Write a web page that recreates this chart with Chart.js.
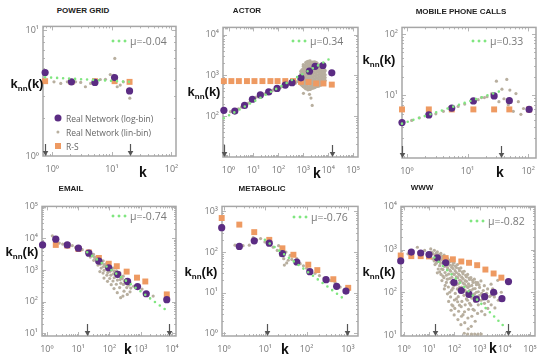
<!DOCTYPE html>
<html>
<head>
<meta charset="utf-8">
<script src="https://cdn.jsdelivr.net/npm/chart.js@4.4.1/dist/chart.umd.min.js"></script>
<style>
  html, body { margin: 0; padding: 0; background: #fff; overflow: hidden; }
  #fig { position: relative; width: 538px; height: 355px; overflow: hidden; }
  canvas { position: absolute; }
  .t { position: absolute; white-space: nowrap; transform: translate(-50%, -50%); }
  .title { font: bold 8px "Liberation Sans", Arial, sans-serif; color: #222; }
  .knn { font: bold 13px "Liberation Sans", Arial, sans-serif; color: #111; }
  .knn sub { font-size: 8px; vertical-align: -3px; }
  .kx { font: bold 14px "Liberation Sans", Arial, sans-serif; color: #111; }
  .mu { position: absolute; white-space: nowrap; transform: translateY(-50%); font: 10.5px "Open Sans", sans-serif; color: #7a7a7a; }
  .dots { position: absolute; height: 6px; transform: translateY(-50%);
          background: radial-gradient(circle, #80e680 1.3px, transparent 1.7px) 0 0 / 6px 6px repeat-x; }
  .leg { position: absolute; white-space: nowrap; transform: translateY(-50%); font: 8.5px "Open Sans", sans-serif; color: #666; }
  .mk { position: absolute; transform: translate(-50%, -50%); }
</style>
</head>
<body>
<div id="fig"></div>
<script>
// all values are [k, knn(k)]

// POWER GRID
const pgLog = [[0.76,4.6],[2.1,3.88],[5.2,3.84],[11.1,4.2],[19.8,3.29]];
const pgRS = [[0.76,3.93],[2.1,3.88],[5.2,3.93],[11.1,3.93],[19.8,3.88]];
const pgLin = [[1.07,3.88],[1.39,3.77],[1.79,3.88],[2.46,3.88],[3.0,3.84],[3.6,3.55],[4.4,3.77],[5.3,3.93],
  [6.4,4.05],[7.8,4.07],[9.4,4.43],[10.7,4.37],[11.2,5.96],[12.3,3.55],[13.8,3.66],[15.6,3.88],[20,2.88]];
const pgFit = [[0.76,4.22],[20,3.88]];
const pgArrows = [0.76, 20];

// ACTOR
const acLog = [[0.65,138],[1.79,132],[4.4,182],[9.1,258],[19,330],[41,390],[89,475],[190,575],[355,660],
  [810,865],[1780,1260],[3000,1660],[6150,1740],[14000,1150]];
const acRS = [[0.65,720],[1.3,720],[2.6,720],[5.5,720],[11,720],[23,720],[48,720],[93,720],[190,720],[390,720],
  [810,690],[1630,680],[3300,630],[6500,630],[14000,590]];
const acLin = [[1.2,128],[2.5,150],[3.3,165],[6,205],[7.5,230],[13,290],[16,310],[28,350],[33,365],[60,430],
  [70,440],[120,500],[150,540],[260,600],[300,620],[480,640],[560,700],
  [1020,360],[1780,340],[2040,275],[2290,182],
  [650,710],[650,800],
  [800,590],[800,690],[800,800],[800,940],[800,1100],[800,1260],
  [1000,525],[1000,620],[1000,730],[1000,860],[1000,1010],[1000,1190],[1000,1400],[1000,1650],[1000,1820],
  [1250,470],[1250,550],[1250,650],[1250,760],[1250,900],[1250,1060],[1250,1250],[1250,1470],[1250,1730],[1250,2050],
  [1550,440],[1550,520],[1550,610],[1550,720],[1550,850],[1550,1000],[1550,1180],[1550,1390],[1550,1640],[1550,1930],[1550,2200],
  [1900,450],[1900,530],[1900,620],[1900,730],[1900,860],[1900,1010],[1900,1190],[1900,1400],[1900,1650],[1900,1940],[1900,2250],
  [2350,480],[2350,560],[2350,660],[2350,780],[2350,920],[2350,1080],[2350,1270],[2350,1500],[2350,1760],[2350,2100],
  [2900,500],[2900,590],[2900,700],[2900,820],[2900,970],[2900,1140],[2900,1340],[2900,1580],[2900,1860],[2900,2150],
  [3600,530],[3600,620],[3600,730],[3600,860],[3600,1010],[3600,1190],[3600,1400],[3600,1650],[3600,2000],
  [4400,550],[4400,650],[4400,760],[4400,900],[4400,1060],[4400,1250],[4400,1470],[4400,1800],
  [5400,590],[5400,690],[5400,810],[5400,960],[5400,1130],[5400,1330],[5400,1650],
  [6600,660],[6600,780],[6600,920],[6600,1080],[6600,1270],[6600,1550],
  [7600,750],[7600,880],[7600,1030],[7600,1300],
  [720,660],[720,760],[720,870],
  [900,560],[900,650],[900,760],[900,890],[900,1040],[900,1200],[900,1380],
  [1120,500],[1120,590],[1120,690],[1120,810],[1120,950],[1120,1120],[1120,1310],[1120,1540],[1120,1750],
  [1390,460],[1390,540],[1390,630],[1390,740],[1390,870],[1390,1030],[1390,1210],[1390,1430],[1390,1680],[1390,1980],[1390,2150],
  [1720,450],[1720,530],[1720,620],[1720,730],[1720,860],[1720,1010],[1720,1190],[1720,1410],[1720,1660],[1720,1960],[1720,2220],
  [2100,470],[2100,550],[2100,650],[2100,760],[2100,890],[2100,1050],[2100,1240],[2100,1460],[2100,1720],[2100,2030],
  [2600,490],[2600,580],[2600,680],[2600,800],[2600,940],[2600,1110],[2600,1300],[2600,1540],[2600,1810],[2600,2120],
  [3250,520],[3250,610],[3250,720],[3250,840],[3250,990],[3250,1160],[3250,1370],[3250,1610],[3250,1900],[3250,2080],
  [4000,540],[4000,640],[4000,750],[4000,880],[4000,1030],[4000,1220],[4000,1430],[4000,1700],
  [4900,570],[4900,670],[4900,790],[4900,930],[4900,1090],[4900,1290],[4900,1520],[4900,1720],
  [6000,620],[6000,730],[6000,860],[6000,1010],[6000,1190],[6000,1420],
  [7100,700],[7100,820],[7100,970],[7100,1150],[7100,1380]];
const acFit = [[0.65,88],[12000,2570]];
const acArrows = [0.64, 14500];

// MOBILE PHONE CALLS
const mpLog = [[0.83,3.6],[2.3,4.8],[5.5,6.2],[12.5,8.1],[27.5,9.8],[49,8.2],[104,5.9]];
const mpRS = [[0.83,5.9],[2.3,5.9],[5.5,5.9],[12.5,5.9],[27.5,5.9],[49,5.9],[104,5.9]];
const mpLin = [[1.2,3.9],[1.6,4.3],[3,5.0],[4,5.5],[7,6.6],[9,7.2],[15,8.5],[19,9.2],[17,9.2],[21,9.5],[25,10.7],
  [30,17],[44.5,18.2],[37,12.6],[33,7.9],[40,8.8],[47,7.0],[50,12.2],[57,5.5],[63,10.7],[69,7.9],[76,4.9],[84,6.1]];
const mpFit = [[0.83,3.46],[34.5,11.7]];
const mpArrows = [0.83, 35.7];

// EMAIL
const emLog = [[0.73,6200],[1.93,9400],[4.5,6200],[10.2,4900],[22,3400],[46,1900],[95,1180],[184,730],[380,435],
  [790,300],[1500,178],[6800,116]];
const emRS = [[1.93,6200],[4.5,5900],[10.2,4600],[22,3600],[46,2400],[95,1580],[172,1320],[355,890],[760,575],
  [1400,435],[6800,170]];
const emLin = [[1.5,12000],[2.5,7100],[3.2,6600],[6.5,5900],[8.3,5200],[13.5,4400],[18.5,3850],[20.5,3260],
  [24,3650],[26,3020],[24.5,2570],[31,3100],[33.5,2500],[31.5,2030],[39.5,2650],[42.5,2180],[40,1750],[43,1430],
  [50,2250],[54,1800],[51,1520],[54.5,1150],[49.5,890],[63,1950],[69,1490],[64.5,1280],[68,980],[62.5,800],[67,555],
  [82,1650],[88,1310],[81,1100],[89,840],[83,690],[87,440],[103,1400],[112,1110],[105,910],[111,690],[102,540],[114,345],
  [132,1160],[145,920],[134,760],[142,570],[130,450],[140,260],[168,950],[181,780],[170,640],[180,480],[166,355],[178,192],
  [215,810],[234,610],[220,500],[232,385],[212,280],[228,134],[275,640],[296,455],[280,350],[292,215],[270,150],
  [350,500],[378,355],[358,280],[372,170],[450,395],[480,270],[455,205],[590,307],
  [29,2800],[37,2350],[46,2000],[58,1650],[75,1400],[95,1200],[120,1000],[155,820],[200,700],[255,540],[320,420],[410,330],
  [1100,250],[2500,150],[7500,140]];
const emFit = [[19.5,3630],[8100,46]];
const emArrows = [18.6, 8200];

// METABOLIC
const mbLog = [[0.88,400],[2.35,138],[5.4,190],[12.5,166],[26,92],[58,57],[120,33],[296,21],[535,14.4],[900,11]];
const mbRS = [[0.88,690],[2.35,475],[5.4,310],[12.5,200],[26,124],[48,86],[110,49],[182,36],[445,21.5],[1020,13.2]];
const mbLin = [[1.85,148],[2.9,144],[4.1,148],[5.1,228],[6.2,200],[7.7,215],[9.8,178],[13,166],[15.6,132],[19.5,110],
  [21,144],[23.5,83],[28,69],[29,48],[31.6,100],[33,54],[36,63],[40,83],[44,66],[53,60],[58,69],[70,52],[84,46],
  [101,40],[126,34.5],[160,30],[205,26.5],[265,23],[370,20],[490,17.5],[650,13.8]];
const mbFit = [[9.8,200],[930,6.3]];
const mbArrows = [10.8, 935];

// WWW
const wwLog = [[0.74,540],[1.95,870],[4.6,830],[9.8,760],[21,640],[45,490],[96,170],[188,110],[380,89],[740,69],
  [1590,79],[3600,100],[7700,71],[14000,178]];
const wwRS = [[0.74,725],[1.95,700],[4.6,700],[9.8,690],[21,640],[45,630],[87,590],[188,525],[380,490],[800,430],
  [1700,340],[3600,275],[7300,220]];
const wwLin = [[1.44,795],[3.4,1130],[3.9,870],[6.6,950],
  [11.5,1030],[12.6,860],[11.8,640],[16,960],[17.2,740],[15.8,540],[17,445],
  [21,880],[23,650],[21.5,520],[22.8,350],[21,285],[29,810],[31.5,590],[28.5,480],[31,350],[29.5,262],[32,188],
  [39,740],[43,540],[40,405],[42.5,290],[38.5,220],[43,145],[40,120],
  [53,620],[58.5,455],[54,372],[59,266],[52.5,202],[57.5,133],[53,92],[59,61],
  [72,570],[78,385],[71,310],[79,224],[73,170],[77.5,112],[70.5,78],[79,51],[74,38],
  [97,485],[107,320],[99,262],[105,188],[96,143],[108,94],[100,66],[104,42],[98,29.5],
  [133,445],[146,266],[136,220],[144,158],[131,120],[142,79],[135,60],[147,36],[138,23],
  [180,372],[196,225],[184,184],[193,133],[178,100],[198,61],[186,46],[192,27.5],[182,17.5],
  [245,310],[266,188],[250,155],[262,112],[240,85],[268,51],[252,35],[258,19.5],[246,11],
  [335,262],[362,158],[340,130],[356,86],[330,65],[365,40],[344,25],[352,14],[338,10.5],
  [452,220],[490,145],[460,110],[482,73],[448,50],[492,27.5],[466,16],[476,10.5],
  [620,202],[662,122],[630,92],[655,61],[612,38],[668,21],[640,10.5],
  [840,168],[890,103],[850,78],[885,51],[830,32],[870,10.5],
  [1130,184],[1210,94],[1150,65],[1200,36],[1160,10.5],
  [1540,143],[1640,79],[1560,55],[1620,30],[2080,120],[2220,61],[2120,42],
  [2850,155],[3000,86],[2880,51],[3850,78],[4050,43],[5250,190],[5500,65],[7280,100],
  [14,800],[14,600],[19,820],[19,620],[19,480],[26,700],[26,540],[26,420],[26,300],[35,650],[35,500],[35,340],[35,240],
  [48,640],[48,520],[48,410],[48,250],[48,170],[65,520],[65,430],[65,330],[65,210],[65,100],
  [88,500],[88,360],[88,270],[88,180],[88,125],[88,48],[120,380],[120,290],[120,230],[120,150],[120,70],
  [160,320],[160,250],[160,190],[160,130],[160,50],[220,270],[220,210],[220,165],[220,105],[220,30],
  [300,230],[300,180],[300,140],[300,100],[300,70],[400,200],[400,140],[400,110],[400,55],
  [550,170],[550,120],[550,85],[550,40],[750,150],[750,100],[750,70],[1000,130],[1000,85],
  [1400,110],[1400,70],[1900,95],[2500,80],[3300,120],[4500,95],
  [25,760],[33,690],[45,580],[62,560],[85,430],[110,410],[150,360],[205,300],[280,250],[380,215],[520,190],[700,170],[950,150]];
const wwFit = [[16,650],[11500,14.2]];
const wwArrows = [17.5, 13500];

const PURPLE = '#5b2c83', ORANGE = '#ee9a62', GRAY = '#b8af9f', GREEN = '#80e680';

// layout of each panel (box = plot frame in page px: left, top, right, bottom)
const panels = [
  { title: 'POWER GRID', log: pgLog, rs: pgRS, lin: pgLin, fit: pgFit, arrows: pgArrows, mu: 'μ=-0.04',
    xr: [0.72, 119], yr: [1, 10.7], box: [43, 23, 176, 156],
    titleAt: [83, 10], knnAt: [27, 84], kAt: [143, 172], muAt: [110, 41] },
  { title: 'ACTOR', log: acLog, rs: acRS, lin: acLin, fit: acFit, arrows: acArrows, mu: 'μ=0.34',
    xr: [0.63, 158000], yr: [9.84, 15000], box: [223, 24, 358, 157],
    titleAt: [247, 10], knnAt: [204, 92], kAt: [317, 173], muAt: [290, 41] },
  { title: 'MOBILE PHONE CALLS', log: mpLog, rs: mpRS, lin: mpLin, fit: mpFit, arrows: mpArrows, mu: 'μ=0.33',
    xr: [0.83, 135], yr: [0.953, 128], box: [402, 24, 536, 158],
    titleAt: [461, 11], knnAt: [379, 60], kAt: [500, 172], muAt: [470, 41] },
  { title: 'EMAIL', log: emLog, rs: emRS, lin: emLin, fit: emFit, arrows: emArrows, mu: 'μ=-0.74',
    xr: [0.746, 13400], yr: [8.26, 102000], box: [42, 203, 176, 336],
    titleAt: [71, 188], knnAt: [22, 252], kAt: [128, 349], muAt: [110, 216] },
  { title: 'METABOLIC', log: mbLog, rs: mbRS, lin: mbLin, fit: mbFit, arrows: mbArrows, mu: 'μ=-0.76',
    xr: [0.895, 1760], yr: [0.861, 1333], box: [222, 203, 358, 336],
    titleAt: [262, 188], knnAt: [201, 272], kAt: [285, 349], muAt: [291, 217] },
  { title: 'WWW', log: wwLog, rs: wwRS, lin: wwLin, fit: wwFit, arrows: wwArrows, mu: 'μ=-0.82',
    xr: [0.76, 158000], yr: [9.49, 10200], box: [401, 203, 535, 336],
    titleAt: [422, 187], knnAt: [379, 272], kAt: [493, 348], muAt: [468, 221] }
];

const WY = 34, HX = 22, PT = 6, PR = 10;
const sup = ['⁰', '¹', '²', '³', '⁴', '⁵'];
const decade = v => {
  const e = Math.log10(v), r = Math.round(e);
  return Math.abs(e - r) < 1e-6 ? r : null;
};
const tickLabel = v => { const r = decade(v); return r !== null && r >= 0 ? '10' + sup[r] : ''; };
const pts = a => a.map(([x, y]) => ({ x, y }));

// frame, inward minor ticks and the fit-range arrows
const frame = {
  id: 'frame',
  beforeDatasetsDraw(chart) {
    const { ctx, chartArea: a, scales: { x, y } } = chart;
    ctx.save();
    ctx.strokeStyle = '#b5b5b5';
    ctx.lineWidth = 1;
    const mark = (s, horiz) => s.ticks.forEach(t => {
      const m = t.value / Math.pow(10, Math.floor(Math.log10(t.value) + 1e-9));
      if (Math.abs(m - Math.round(m)) > 1e-6) return;
      const len = Math.round(m) === 1 ? 4 : 2;
      const p = Math.round(s.getPixelForValue(t.value)) + 0.5;
      if (horiz ? (p < a.left || p > a.right) : (p < a.top || p > a.bottom)) return;
      ctx.beginPath();
      if (horiz) {
        ctx.moveTo(p, a.bottom); ctx.lineTo(p, a.bottom - len);
        ctx.moveTo(p, a.top); ctx.lineTo(p, a.top + len);
      } else {
        ctx.moveTo(a.left, p); ctx.lineTo(a.left + len, p);
        ctx.moveTo(a.right, p); ctx.lineTo(a.right - len, p);
      }
      ctx.stroke();
    });
    mark(x, true);
    mark(y, false);
    ctx.strokeStyle = '#a6a6a6';
    ctx.lineWidth = 1.5;
    ctx.strokeRect(a.left, a.top, a.right - a.left, a.bottom - a.top);
    ctx.restore();
  },
  afterDatasetsDraw(chart, args, opts) {
    const { ctx, chartArea: a, scales: { x } } = chart;
    ctx.save();
    ctx.strokeStyle = '#555';
    ctx.fillStyle = '#555';
    ctx.lineWidth = 1.2;
    (opts.arrows || []).forEach(k => {
      const p = Math.round(x.getPixelForValue(k)) + 0.5;
      ctx.beginPath();
      ctx.moveTo(p, a.bottom - 12);
      ctx.lineTo(p, a.bottom - 4);
      ctx.stroke();
      ctx.beginPath();
      ctx.moveTo(p - 2.8, a.bottom - 5);
      ctx.lineTo(p + 2.8, a.bottom - 5);
      ctx.lineTo(p, a.bottom);
      ctx.closePath();
      ctx.fill();
    });
    ctx.restore();
  }
};

const fig = document.getElementById('fig');
const addText = (cls, html, x, y) => {
  const d = document.createElement('div');
  d.className = cls;
  d.innerHTML = html;
  d.style.left = x + 'px';
  d.style.top = y + 'px';
  fig.appendChild(d);
  return d;
};

const tickFont = { family: '"Open Sans", sans-serif', size: 9 };

panels.forEach(p => {
  const [L, T, R, B] = p.box;
  const cv = document.createElement('canvas');
  const w = WY + (R - L) + PR, h = PT + (B - T) + HX;
  cv.width = w; cv.height = h;
  cv.style.left = (L - WY) + 'px';
  cv.style.top = (T - PT) + 'px';
  cv.style.width = w + 'px';
  cv.style.height = h + 'px';
  fig.appendChild(cv);

  new Chart(cv.getContext('2d'), {
    type: 'scatter',
    data: {
      datasets: [
        { label: 'fit', data: pts(p.fit), showLine: true, borderColor: GREEN, borderWidth: 2.6,
          borderDash: [0, 6], borderCapStyle: 'round', pointRadius: 0, clip: false },
        { label: 'Real Network (log-bin)', data: pts(p.log), pointRadius: 3.6, pointBorderWidth: 0,
          backgroundColor: PURPLE, clip: false },
        { label: 'R-S', data: pts(p.rs), pointStyle: 'rect', pointRadius: 4.2, pointBorderWidth: 0,
          backgroundColor: ORANGE, clip: false },
        { label: 'Real Network (lin-bin)', data: pts(p.lin), pointRadius: 1.6, pointBorderWidth: 0,
          backgroundColor: GRAY, clip: false }
      ]
    },
    options: {
      responsive: false,
      animation: false,
      devicePixelRatio: 1,
      events: [],
      layout: { padding: { top: PT, right: PR, left: 0, bottom: 0 } },
      plugins: { legend: { display: false }, tooltip: { enabled: false }, frame: { arrows: p.arrows } },
      scales: {
        x: {
          type: 'logarithmic', min: p.xr[0], max: p.xr[1],
          grid: { display: false, drawTicks: false }, border: { display: false },
          ticks: { autoSkip: false, maxRotation: 0, padding: 8, color: '#767676', font: tickFont, callback: tickLabel },
          afterFit: s => { s.height = HX; }
        },
        y: {
          type: 'logarithmic', min: p.yr[0], max: p.yr[1],
          grid: { display: false, drawTicks: false }, border: { display: false },
          ticks: { autoSkip: false, padding: 4, color: '#767676', font: tickFont, callback: tickLabel },
          afterFit: s => { s.width = WY; }
        }
      }
    },
    plugins: [frame]
  });

  addText('t title', p.title, p.titleAt[0], p.titleAt[1]);
  addText('t knn', 'k<sub>nn</sub>(k)', p.knnAt[0], p.knnAt[1]);
  addText('t kx', 'k', p.kAt[0], p.kAt[1]);
  const dots = addText('dots', '', p.muAt[0], p.muAt[1]);
  dots.style.width = '18px';
  addText('mu', p.mu, p.muAt[0] + 20, p.muAt[1]);
});

// legend (drawn in the power grid panel)
const legendRows = [
  { text: 'Real Network (log-bin)', css: `width:7px;height:7px;border-radius:50%;background:${PURPLE}` },
  { text: 'Real Network (lin-bin)', css: `width:3.2px;height:3.2px;border-radius:50%;background:${GRAY}` },
  { text: 'R-S', css: `width:6px;height:6px;background:${ORANGE}` }
];
legendRows.forEach((r, i) => {
  const y = 118 + i * 14;
  const m = addText('mk', '', 58, y);
  m.style.cssText += r.css;
  addText('leg', r.text, 66, y);
});
</script>
</body>
</html>
